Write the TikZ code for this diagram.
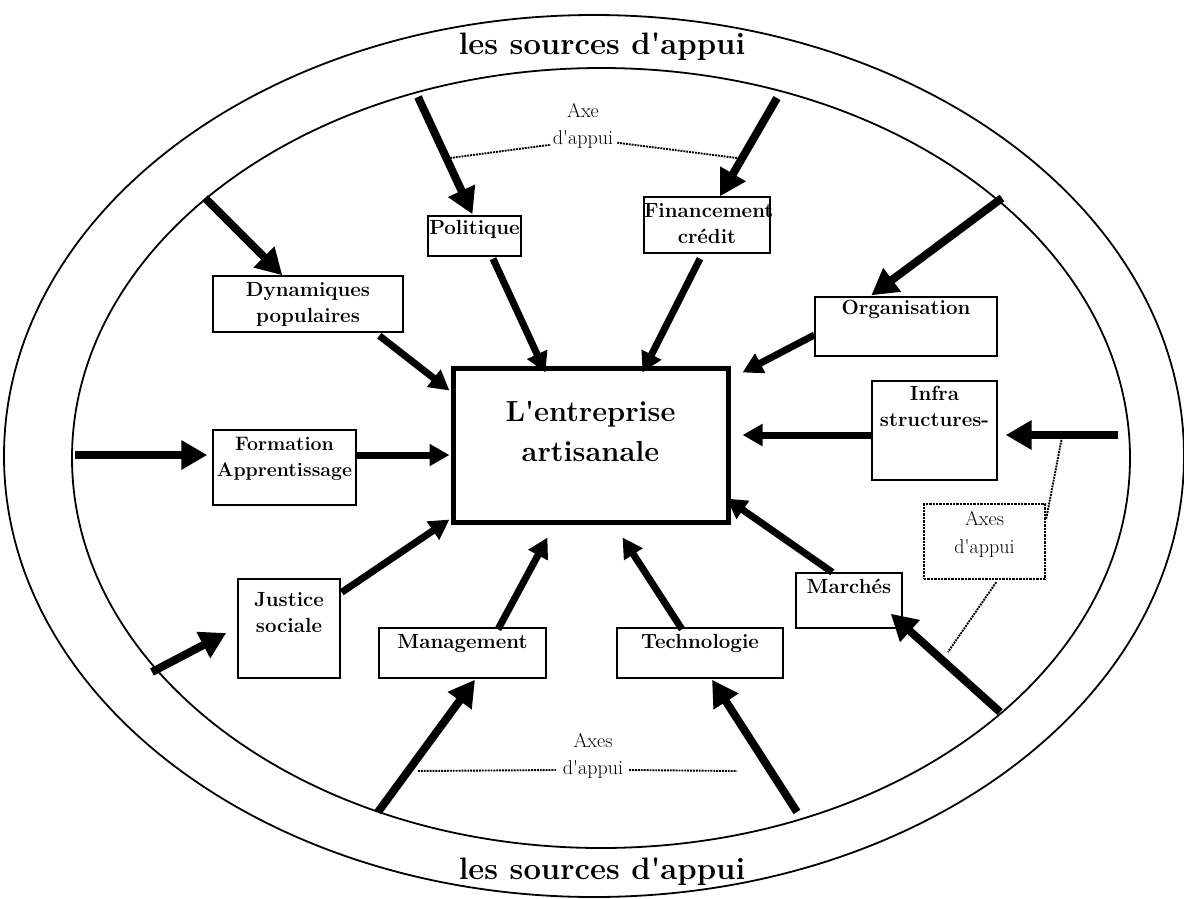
\documentclass[tikz,border=0pt]{standalone}
\usetikzlibrary{arrows.meta,calc}
\newcommand{\boxtext}[4]{\parbox[c][#2pt][t]{#1pt}{\centering\vspace*{#3pt}#4\par}}
\newcommand{\apos}{\textquotesingle}
\begin{document}
\begin{tikzpicture}[x=1pt,y=-1pt,
  outarrow/.style={line width=8pt,-{Triangle[length=26pt,width=28pt]}},
  inarrow/.style={line width=7pt,-{Triangle[length=20pt,width=21pt]}},
  sbox/.style={draw,line width=1.4pt,inner sep=0pt,font=\bfseries\fontsize{20.5}{26}\selectfont},
  cbox/.style={draw,line width=5pt,inner sep=0pt,font=\bfseries\fontsize{29}{40}\selectfont},
  dotbox/.style={draw,densely dotted,line width=2.4pt,inner sep=0pt,font=\fontsize{20}{28}\selectfont},
  dotline/.style={densely dotted,line width=1.9pt},
  axetext/.style={inner sep=0pt,align=center,font=\fontsize{20}{27}\selectfont},
  srctext/.style={inner sep=0pt,font=\bfseries\fontsize{31}{36}\selectfont},
  ring/.style={line width=1.8pt}]

\useasboundingbox (0,0) rectangle (1184,898);
\fill[white] (0,0) rectangle (1184,898);

% rings
\draw[ring] (594,456) ellipse [x radius=590pt,y radius=441pt];
\draw[ring] (601,458) ellipse [x radius=529pt,y radius=390pt];

\node[srctext] (srctop) at (602,47) {les sources d\apos appui};
\node[srctext] (srcbot) at (602,872) {les sources d\apos appui};

% central box
\node[cbox] (ent) at (590.5,445) {\boxtext{275}{154}{33}{L\apos entreprise\\artisanale}};

% boxes
\node[sbox] (pol)   at (474.5,236)  {\boxtext{93}{40}{4}{Politique}};
\node[sbox] (fin)   at (707,225)    {\boxtext{126}{56}{7}{Financement\\crédit}};
\node[sbox] (dyn)   at (308,304)    {\boxtext{190}{56}{6}{Dynamiques\\populaires}};
\node[sbox,font=\bfseries\fontsize{19.5}{26}\selectfont] (form) at (284.5,467.5){\boxtext{143}{75}{7}{Formation\\Apprentissage}};
\node[sbox] (org)   at (906,326.5)  {\boxtext{182}{59}{3}{Organisation}};
\node[sbox] (infra) at (934.5,430.5){\boxtext{125}{99}{5}{Infra\\structures-}};
\node[sbox] (march) at (849,600.5)  {\boxtext{106}{55}{6}{Marchés}};
\node[sbox] (just)  at (289,628.5)  {\boxtext{102}{99}{13}{Justice\\sociale}};
\node[sbox] (mgmt)  at (462.5,653)  {\boxtext{167}{50}{6}{Management}};
\node[sbox] (tech)  at (700,653)    {\boxtext{166}{50}{6}{Technologie}};
\node[dotbox] (axesR) at (984.5,541.5) {\boxtext{121}{75}{7}{Axes\\d\apos appui}};

% axis labels
\node[axetext] (axeT) at (583,126) {Axe\\d\apos appui};
\node[axetext] (axeB) at (593,756) {Axes\\d\apos appui};

% outer start points (on the inner ring)
\coordinate (s1) at (205,198);
\coordinate (s2) at (418,97);
\coordinate (s3) at (777,98);
\coordinate (s4) at (1002,198);
\coordinate (s5) at (1118,435);
\coordinate (s6) at (1000,712);
\coordinate (s7) at (797,812);
\coordinate (s8) at (378,812);
\coordinate (s9) at (152,672);
\coordinate (s10) at (75,455);

% outer arrows
\draw[outarrow] (s1) -- ($(dyn.north west)+(70,0)$);
\draw[outarrow] (s2) -- ($(pol.north)+(-2,-1)$);
\draw[outarrow] (s3) -- ($(fin.north)+(13,0)$);
\draw[outarrow] (s4) -- ($(org.north west)+(57,-1)$);
\draw[outarrow] (s5) -- ($(infra.east)+(8,4.5)$);
\draw[outarrow] (s6) -- ($(march.south east)+(-12,-15)$);
\draw[outarrow] (s7) -- ($(tech.south)+(12,1)$);
\draw[outarrow] (s8) -- ($(mgmt.south)+(12.5,1)$);
\draw[outarrow] (s9) -- ($(just.west)+(-11,4.5)$);
\draw[outarrow] (s10) -- ($(form.west)+(-5,-12.5)$);

% inner arrows
\draw[inarrow] ($(dyn.south west)+(167,3)$) -- ($(ent.north west)+(-1,25)$);
\draw[inarrow] ($(pol.south)+(18.5,2)$) -- ($(ent.north west)+(95,7)$);
\draw[inarrow] ($(fin.south)+(-7,5)$) -- ($(ent.north west)+(192,7)$);
\draw[inarrow] ($(org.west)+(0,8.5)$) -- ($(ent.north east)+(12,7)$);
\draw[inarrow] ($(infra.west)+(0,4.5)$) -- ($(ent.east)+(12,-10)$);
\draw[inarrow] ($(march.north west)+(37,0)$) -- ($(ent.south east)+(-4,-26)$);
\draw[inarrow] ($(tech.north)+(-18,2)$) -- ($(ent.south west)+(172,13)$);
\draw[inarrow] ($(mgmt.north)+(35.5,2)$) -- ($(ent.south west)+(97,13)$);
\draw[inarrow] ($(just.north east)+(1,14)$) -- ($(ent.south west)+(-1,-5)$);
\draw[inarrow] ($(form.east)+(0,-12.5)$) -- ($(ent.west)+(-1,10)$);

% dotted connectors
\coordinate (tl) at (450,158);
\coordinate (tr) at (737,158);
\coordinate (bl) at (418,771);
\coordinate (br) at (737,771);
\coordinate (ra) at (1062,437);
\coordinate (rb) at (948,652);
\draw[dotline] (tl) -- ($(axeT.south west)+(-2,-4)$);
\draw[dotline] ($(axeT.south east)+(4,-6)$) -- (tr);
\draw[dotline] (bl) -- ($(axeB.west)+(-6,14)$);
\draw[dotline] ($(axeB.east)+(6,14)$) -- (br);
\draw[dotline] (ra) -- ($(axesR.north east)+(0,16)$);
\draw[dotline] ($(axesR.south east)+(-50,2)$) -- (rb);
\end{tikzpicture}
\end{document}
